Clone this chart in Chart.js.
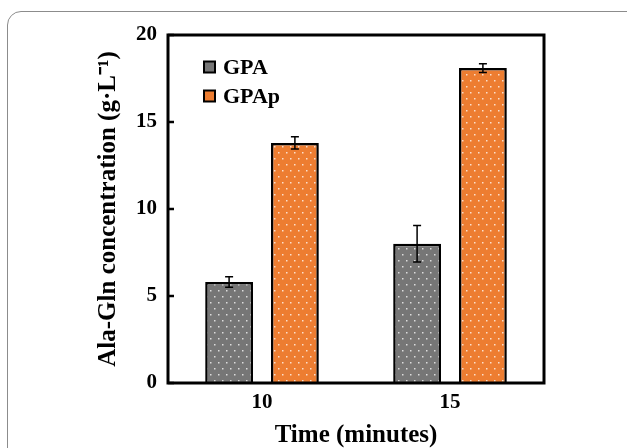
<!DOCTYPE html>
<html>
<head>
<meta charset="utf-8">
<script src="https://cdn.jsdelivr.net/npm/chart.js@4"></script>
<style>
  html, body { margin: 0; padding: 0; background: #fff; }
  #wrap { position: relative; width: 627px; height: 448px; overflow: hidden; }
  #frame { position: absolute; left: 7px; top: 11px; width: 700px; height: 500px;
           border: 1.5px solid #8c8c8c; border-radius: 14px; box-sizing: border-box; }
  canvas { position: absolute; left: 0; top: 0; }
</style>
</head>
<body>
<div id="wrap">
  <div id="frame"></div>
  <canvas id="chart" width="627" height="448"></canvas>
</div>
<script>
const categories = ['10', '15'];
const gpaValues = [5.8, 8.0];
const gpaErrors = [0.3, 1.05];
const gpapValues = [13.8, 18.1];
const gpapErrors = [0.35, 0.25];
const yTicks = [0, 5, 10, 15, 20];

const serif = "'Liberation Serif', 'Times New Roman', serif";

// dotted fill like the original bars
function dots(color) {
  const c = document.createElement('canvas');
  c.width = 8; c.height = 12;
  const g = c.getContext('2d');
  g.fillStyle = color;
  g.fillRect(0, 0, 8, 12);
  g.fillStyle = 'rgba(255,255,255,0.75)';
  g.fillRect(2, 2, 1.5, 1.5);
  g.fillRect(6, 8, 1.5, 1.5);
  return g.createPattern(c, 'repeat');
}

const gray = '#767676';
const orange = '#ED7D31';

const deco = {
  id: 'deco',
  afterDatasetsDraw(chart) {
    const { ctx, chartArea: a, scales: { y } } = chart;
    ctx.save();
    ctx.strokeStyle = '#000';
    ctx.lineWidth = 1.5;
    chart.data.datasets.forEach((ds, i) => {
      chart.getDatasetMeta(i).data.forEach((bar, j) => {
        const v = ds.data[j], e = ds.errors[j];
        const yt = y.getPixelForValue(v + e), yb = y.getPixelForValue(v - e);
        const x = bar.x;
        ctx.beginPath();
        ctx.moveTo(x, yt); ctx.lineTo(x, yb);
        ctx.moveTo(x - 4, yt); ctx.lineTo(x + 4, yt);
        ctx.moveTo(x - 4, yb); ctx.lineTo(x + 4, yb);
        ctx.stroke();
      });
    });

    // box around plot
    ctx.lineWidth = 3;
    ctx.strokeRect(a.left, a.top, a.width, a.height);

    // inward ticks on y axis
    ctx.lineWidth = 2.5;
    yTicks.forEach(t => {
      const py = y.getPixelForValue(t);
      ctx.beginPath();
      ctx.moveTo(a.left, py); ctx.lineTo(a.left + 6, py);
      ctx.stroke();
    });

    // legend inside the plot
    ctx.font = 'bold 22px ' + serif;
    ctx.textBaseline = 'middle';
    ctx.textAlign = 'left';
    chart.data.datasets.forEach((ds, i) => {
      const cy = 67 + i * 29;
      const bx = a.left + 36;
      ctx.fillStyle = ds.legendColor;
      ctx.fillRect(bx, cy - 5.5, 11, 11);
      ctx.lineWidth = 2;
      ctx.strokeRect(bx, cy - 5.5, 11, 11);
      ctx.fillStyle = '#000';
      ctx.fillText(ds.label, bx + 19, cy + 1);
    });
    ctx.restore();
  }
};

new Chart(document.getElementById('chart'), {
  type: 'bar',
  data: {
    labels: categories,
    datasets: [{
      label: 'GPA',
      data: gpaValues,
      errors: gpaErrors,
      legendColor: gray,
      backgroundColor: dots(gray),
      borderColor: '#000',
      borderWidth: 2.5
    }, {
      label: 'GPAp',
      data: gpapValues,
      errors: gpapErrors,
      legendColor: orange,
      backgroundColor: dots(orange),
      borderColor: '#000',
      borderWidth: 2.5
    }]
  },
  options: {
    responsive: false,
    animation: false,
    categoryPercentage: 0.70,
    barPercentage: 0.727,
    layout: { padding: { left: 0, right: 83, top: 35, bottom: 0 } },
    plugins: {
      legend: { display: false },
      tooltip: { enabled: false }
    },
    scales: {
      x: {
        grid: { display: false, drawTicks: false },
        border: { display: false },
        ticks: { color: '#000', padding: 7, font: { family: serif, size: 21, weight: 'bold' } },
        title: {
          display: true,
          text: 'Time (minutes)',
          color: '#000',
          padding: { top: 0, bottom: 0 },
          font: { family: serif, size: 25, weight: 'bold', lineHeight: 1 }
        },
        afterFit(s) { s.height = 65; }
      },
      y: {
        min: 0,
        max: 20,
        grid: { display: false, drawTicks: false },
        border: { display: false },
        ticks: { stepSize: 5, color: '#000', padding: 11, font: { family: serif, size: 21, weight: 'bold' } },
        title: {
          display: true,
          text: 'Ala-Gln concentration (g·L⁻¹)',
          color: '#000',
          padding: { top: 94, bottom: 0 },
          font: { family: serif, size: 25, weight: 'bold', lineHeight: 1.2 }
        },
        afterFit(s) { s.width = 168; }
      }
    }
  },
  plugins: [deco]
});
</script>
</body>
</html>
